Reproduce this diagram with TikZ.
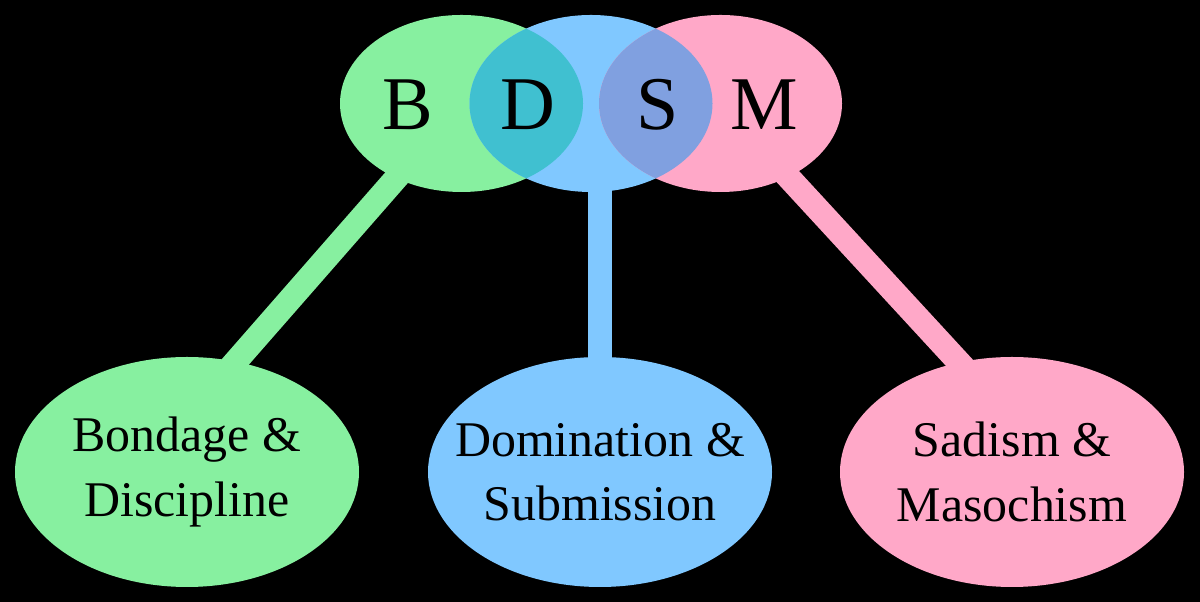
\documentclass[tikz,border=0pt]{standalone}
\usepackage{fontspec}
\setmainfont{Liberation Serif}
\usepackage{tikz}
\usetikzlibrary{shapes,backgrounds,positioning,calc}
\definecolor{bd_c}{RGB}{135,240,160}
\definecolor{ds_c}{RGB}{128,200,255}
\definecolor{sm_c}{RGB}{255,168,200}
\definecolor{bdds_c}{RGB}{64,192,208}
\definecolor{dssm_c}{RGB}{128,160,224}
\tikzset{
  bubble/.style = {ellipse, inner sep=0pt, outer sep=0pt},
  top_n/.style = {bubble, minimum width=6.075cm, minimum height=4.425cm},% bulle du haut
  bot_n/.style = {bubble, minimum width=8.6cm, minimum height=5.75cm},% bulle du bas
  bot_t/.style = {align=center, inner sep=0pt, text=black,
    font=\fontsize{35.5}{46}\selectfont},% texte de la bulle du bas
  letter/.style = {anchor=base, inner sep=0pt, text=black,
    font=\fontsize{54}{60}\selectfont},
  link/.style = {line width=0.6cm}
}

\begin{document}
\begin{tikzpicture}
\useasboundingbox (0,0) rectangle (30,15.05);

% bulles du haut
\node [top_n, fill=bd_c] (b) at (11.5375,12.4625) {};
\node [top_n, fill=ds_c] (d) at (14.775,12.4625) {};
\node [top_n, fill=sm_c] (s) at (18.0125,12.4625) {};

% intersections
\begin{scope}
  \clip (b.center) ellipse [x radius=3.0375cm, y radius=2.2125cm];
  \fill[bdds_c] (d.center) ellipse [x radius=3.0375cm, y radius=2.2125cm];
\end{scope}
\begin{scope}
  \clip (d.center) ellipse [x radius=3.0375cm, y radius=2.2125cm];
  \fill[dssm_c] (s.center) ellipse [x radius=3.0375cm, y radius=2.2125cm];
\end{scope}

\node [letter] (lb) at (10.2,11.8) {B};
\node [letter] (ld) at (13.2,11.8) {D};
\node [letter] (ls) at (16.44,11.8) {S};
\node [letter] (lm) at (19.1,11.8) {M};

% bulles du bas
\node [bot_n, fill=bd_c] (bd) at (4.675,3.25) {};
\node [bot_n, fill=ds_c] (ds) at (15,3.25) {};
\node [bot_n, fill=sm_c] (sm) at (25.3,3.25) {};
\node [bot_t] (bd_t) at (bd) {Bondage \&\\Discipline};
\node [bot_t] (ds_t) at (ds) {Domination \&\\Submission};
\node [bot_t] (sm_t) at (sm) {Sadism \&\\Masochism};

\begin{scope}[on background layer]
\fill[black] (0,0) rectangle (30,15.05);
\draw[link, bd_c] (b.center) -- ([xshift=-1.2cm]bd.center);
\draw[link, ds_c] (ds |- d.center) -- (ds.center);
\draw[link, sm_c] (s.center) -- ([xshift=1.2cm]sm.center);
\end{scope}
\end{tikzpicture}
\end{document}
